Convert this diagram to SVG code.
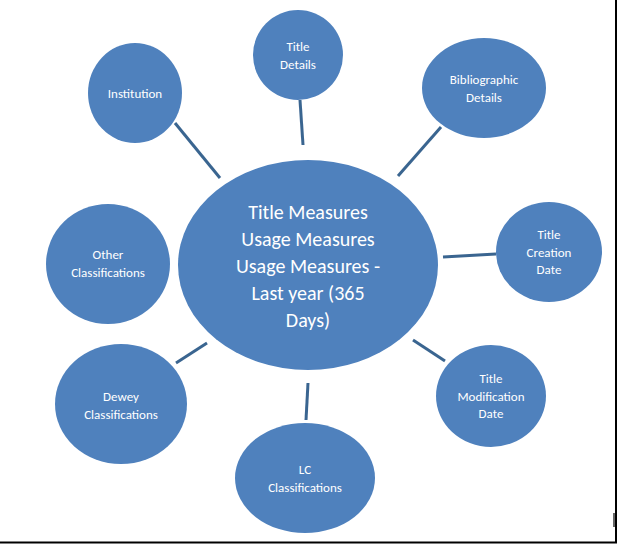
<svg xmlns="http://www.w3.org/2000/svg" width="617" height="544" viewBox="0 0 617 544">
<style>
.n{fill:#4F81BD;}
.t{fill:#fff;font-family:Calibri,"Liberation Sans",Arial,sans-serif;font-size:13px;text-anchor:middle;}
.c{font-size:20px;}
.l{stroke:#3A6590;stroke-width:3;fill:none;}
</style>
<rect width="617" height="544" fill="#fff"/>
<path d="M616 0V542.5H0" stroke="#000" stroke-width="2" fill="none"/>
<line x1="614" y1="513" x2="614" y2="527" stroke="#000" stroke-width="1.2"/>
<g id="connectors">
<line class="l" x1="300" y1="100" x2="303" y2="145"/>
<line class="l" x1="441" y1="127" x2="398" y2="176"/>
<line class="l" x1="175" y1="123" x2="220" y2="178"/>
<line class="l" x1="443" y1="257" x2="496" y2="254"/>
<line class="l" x1="413" y1="340" x2="445" y2="361"/>
<line class="l" x1="176" y1="363" x2="207" y2="343"/>
<line class="l" x1="308" y1="383" x2="306" y2="420"/>
</g>
<g id="center"><ellipse class="n" cx="308" cy="265" rx="130" ry="105"/>
<text class="t c" x="308" y="219">Title Measures</text>
<text class="t c" x="308" y="246">Usage Measures</text>
<text class="t c" x="308" y="273">Usage Measures -</text>
<text class="t c" x="308" y="300">Last year (365</text>
<text class="t c" x="308" y="327">Days)</text></g>
<g id="title-details"><ellipse class="n" cx="298" cy="55" rx="45" ry="45"/>
<text class="t" x="298" y="51">Title</text><text class="t" x="298" y="69">Details</text></g>
<g id="bibliographic"><ellipse class="n" cx="484" cy="88" rx="62" ry="50"/>
<text class="t" x="484" y="84">Bibliographic</text><text class="t" x="484" y="102">Details</text></g>
<g id="institution"><ellipse class="n" cx="135" cy="93" rx="47" ry="50"/>
<text class="t" x="135" y="98">Institution</text></g>
<g id="other"><ellipse class="n" cx="108" cy="264" rx="62" ry="60"/>
<text class="t" x="108" y="259">Other</text><text class="t" x="108" y="277">Classifications</text></g>
<g id="creation"><ellipse class="n" cx="549" cy="252" rx="53" ry="50"/>
<text class="t" x="549" y="239">Title</text><text class="t" x="549" y="257">Creation</text><text class="t" x="549" y="274">Date</text></g>
<g id="modification"><ellipse class="n" cx="491" cy="396" rx="55" ry="51"/>
<text class="t" x="491" y="383">Title</text><text class="t" x="491" y="401">Modification</text><text class="t" x="491" y="418">Date</text></g>
<g id="dewey"><ellipse class="n" cx="121" cy="404" rx="66" ry="60"/>
<text class="t" x="121" y="401">Dewey</text><text class="t" x="121" y="419">Classifications</text></g>
<g id="lc"><ellipse class="n" cx="305" cy="478" rx="70" ry="55"/>
<text class="t" x="305" y="474">LC</text><text class="t" x="305" y="492">Classifications</text></g>
</svg>
